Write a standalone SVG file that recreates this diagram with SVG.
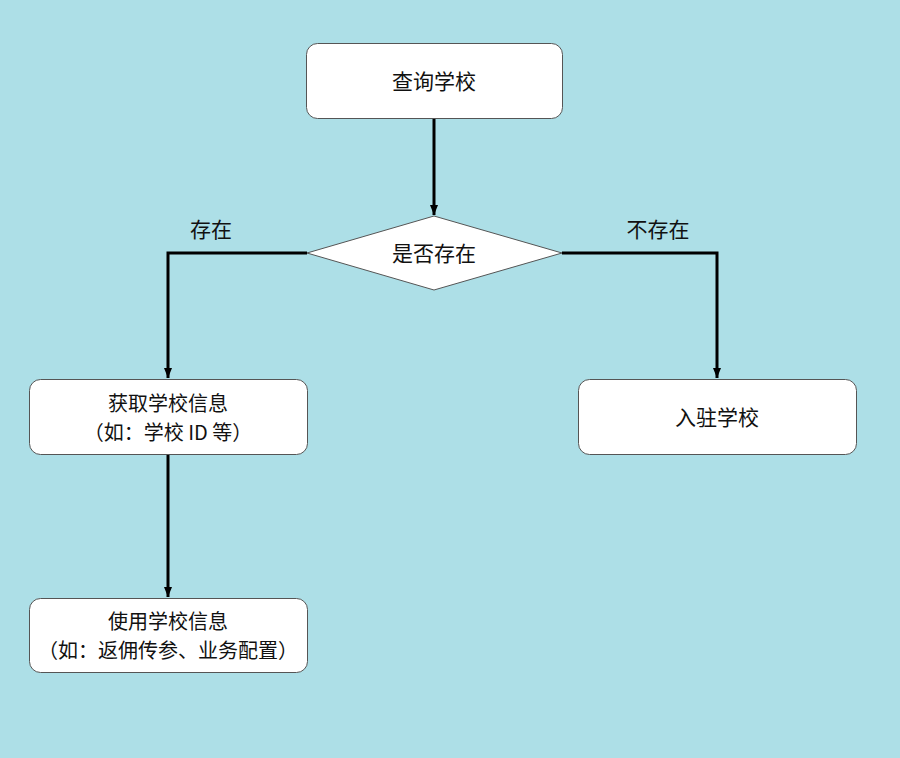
<svg xmlns="http://www.w3.org/2000/svg" width="900" height="758" viewBox="0 0 900 758">
<style>
.bg{fill:#addfe7}
.box{fill:#fff;stroke:#555;stroke-width:1}
.t{font-family:"Noto Sans CJK SC","Liberation Sans",sans-serif;font-size:21px;fill:#111;text-anchor:middle;dominant-baseline:central}
.s{font-size:20px}
.c{fill:none;stroke:#000;stroke-width:3}
</style>
<defs>
<marker id="ah" viewBox="0 0 10 10" refX="10" refY="5" markerWidth="10" markerHeight="10" markerUnits="userSpaceOnUse" orient="auto">
<path d="M0,1 L10,5 L0,9 Z" fill="#000"/>
</marker>
</defs>
<rect class="bg" x="0" y="0" width="900" height="758"/>
<g id="connectors">
<path class="c" d="M434,118 V215" marker-end="url(#ah)"/>
<path class="c" d="M307,253 H168 V378" marker-end="url(#ah)"/>
<path class="c" d="M562,253 H717 V378" marker-end="url(#ah)"/>
<path class="c" d="M168,454 V597" marker-end="url(#ah)"/>
<text class="t" x="211" y="228">存在</text>
<text class="t" x="658" y="228">不存在</text>
</g>
<g id="query">
<rect class="box" x="306.5" y="43.5" width="256" height="75" rx="11"/>
<text class="t" x="434" y="80">查询学校</text>
</g>
<g id="decision">
<polygon class="box" points="434,216 562,253 434,290 307,253"/>
<text class="t" x="434" y="252">是否存在</text>
</g>
<g id="getinfo">
<rect class="box" x="29.5" y="379.5" width="278" height="75" rx="11"/>
<text class="t s" x="168" y="402">获取学校信息</text>
<text class="t s" x="168" y="431">（如：学校 ID 等）</text>
</g>
<g id="join">
<rect class="box" x="578.5" y="379.5" width="278" height="75" rx="11"/>
<text class="t" x="717" y="416">入驻学校</text>
</g>
<g id="useinfo">
<rect class="box" x="29.5" y="598.5" width="278" height="74" rx="11"/>
<text class="t s" x="168" y="620">使用学校信息</text>
<text class="t s" x="168" y="649">（如：返佣传参、业务配置）</text>
</g>
</svg>
